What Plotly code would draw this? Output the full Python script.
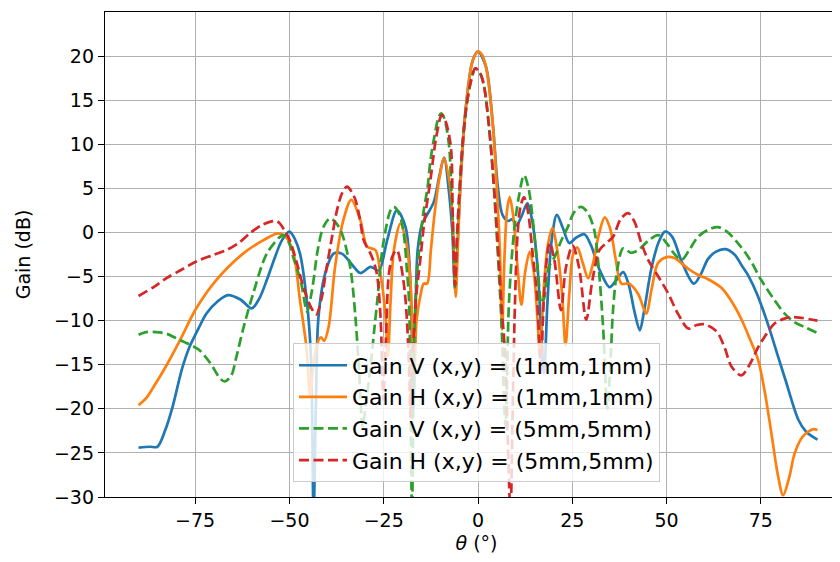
import plotly.graph_objects as go

# ---- data ----
theta_v1 = [-90, -87, -85, -83, -81, -78.5, -76.5, -74, -72, -69, -66.3, -63, -60, -58, -56, -54, -52, -50,
            -48.5, -47.2, -45.4, -44.3, -43.6, -43, -42.3, -40.5, -38.3, -36.1, -33.5, -31.2, -28.5, -26.3,
            -24.1, -21.5, -19.2, -17.9, -17.1, -16.5, -16, -14.8, -13.5, -11.7, -10.2, -9, -7.8, -6.8, -6.1,
            -5.5, -4.5, -3.2, -1.4, 0, 2.1, 3.9, 5.3, 6.5, 8.0, 9.1, 10.2, 11.5, 13.1, 14.5, 15.8, 16.6, 17.5,
            18.4, 19.5, 20.9, 22.5, 24.2, 26, 28.2, 30, 32, 34.9, 36.5, 38.5, 40, 41.5, 42.9, 44, 46, 48, 49.6,
            51.5, 54, 57.2, 59, 61, 63, 65.6, 68, 70, 71.8, 74, 77.1, 79.5, 81.5, 85, 87, 90]
gain_v1 = [-24.4, -24.3, -24.3, -22.5, -19.8, -15.5, -13, -10.8, -9.2, -7.8, -7.1, -7.6, -8.6, -7.5, -5.4, -3, -0.9, 0.1,
           -0.8, -2.4, -7.7, -14, -32, -20, -9.6, -4.6, -2.4, -2.4, -3.6, -4.6, -3.9, -4.3,
           -0.9, 2.5, 0.6, -6, -20, -8, -2, 1.0, 2.0, 3.5, 6.5, 8.5, 5, 0, -6.5,
           -2, 6.7, 14.3, 19.5, 20.5, 18.8, 12.4, 5, 2.0, 1.3, 1.5, 0.8, 1.8, 3.3, 1, -4, -10, -16,
           -8, -1, 2.0, 0.5, -1.2, -0.6, -0.2, -1.5, -4, -6.2, -5.5, -4.5, -6, -9, -11.1, -9, -4, -1, 0.1,
           -0.5, -3.3, -5.8, -4.8, -3, -2.2, -1.9, -2.5, -3.8, -5, -7, -10.7, -14, -16.7, -21.3, -22.6, -23.5]

theta_h1 = [-90, -88, -86, -82.5, -79, -74.7, -69.4, -62.3, -57, -53, -51, -49, -47.2, -45.5, -44.5, -43.5, -42.3,
            -41.6, -40.8, -39.6, -37.9, -35.7, -33.6, -31.2, -29.4, -27.2, -25.9, -24.6, -23.9, -23.2, -22.3,
            -20.6, -19, -18, -17.3, -16.9, -16.3, -15.2, -14.4, -13.5, -12.5, -11.6, -10.3, -9, -7.5, -6.8,
            -6.3, -5.9, -5.3, -4.5, -3.2, -1.4, 0, 1, 2.1, 3.9, 5.0, 5.8, 6.4, 7.0, 7.7, 8.4, 9.3, 10.5, 11.5,
            12.5, 13.7, 14.8, 15.8, 16.4, 17.5, 18.5, 19.7, 21, 22.3, 23.2, 24.2, 25.2, 26.3, 27.8, 29.2, 30.5,
            32, 33.6, 35, 36.5, 38, 40, 42.5, 44.6, 46, 47.7, 50, 52.1, 54, 56, 58.3, 61, 64.6, 67.5, 69.9, 72,
            74.3, 76, 77.8, 79.5, 80.9, 82.5, 84, 86, 87.5, 89, 90]
gain_h1 = [-19.6, -18.8, -17.5, -15, -12.2, -8.6, -5.4, -2.4, -0.9, -0.1, -0.5, -2.2, -7.7, -13, -18.5, -14.5, -12.2,
           -11.9, -12.3, -10.7, -3.9, 1.4, 3.7, 1.4, -1.6, -2.0, -4.6, -9, -14, -8, -2,
           1.0, -1.2, -5, -13, -16, -10, -7.0, -5.8, -5.8, -2, 1.8, 6, 8.4, 5.5, 2,
           -3, -7.3, -1, 6.7, 14.3, 19.5, 20.5, 20.2, 18.8, 12.4, 5, -2, -11, -3, 2.5, 4.0, 2, -4, -8.2,
           -4.5, -2.2, -4.5, -10, -14, -6, -1.5, 0.5, -2, -7, -12.8, -7, -2.5, -1.7, -3.5, -5.2, -3.5,
           -0.3, 1.7, 0.5, -3, -5.8, -5.8, -7, -9.2, -6.5, -3.5, -2.8, -2.9, -3.5, -4.2, -4.8, -5.3, -6.3, -8, -9.9, -12,
           -14.5, -18, -22.8, -27.5, -29.8, -27.8, -25, -23.2, -22.6, -22.3, -22.4]

theta_v5 = [-90, -88, -85.4, -82.5, -80, -77, -74, -71, -68.5, -67.2, -65.5, -64, -62.3, -59.6, -56, -52.5, -51.5,
            -50, -49, -47, -45.3, -44.2, -43.6, -42.5, -41, -39.2, -37.5, -36.1, -33.9, -32.5, -31.5, -30.6,
            -29.6, -28.5, -27.5, -26.7, -25.8, -25, -23.2, -22.3, -20.8, -19.7, -18.9, -18.3, -17.9, -17.5,
            -17.0, -16.4, -15.5, -14.4, -13.4, -12.6, -11.6, -10.5, -9.8, -9, -8.2, -7.6, -7, -6.5, -6.1, -5.7,
            -5, -4, -3, -1.8, -0.7, 0.5, 1.5, 2.8, 4, 5.2, 6.2, 7.3, 8.2, 9.5, 10.8, 12.2, 13.4, 14.9, 16, 16.8,
            17.5, 18.7, 20.3, 22, 23.8, 25.5, 27.3, 29, 30.8, 32, 33.2, 34.3, 35.2, 35.8, 37, 38.5, 40.5, 42.5,
            45, 47.8, 50, 52, 54, 56, 58.3, 61, 63.6, 66, 68.9, 72, 75.1, 78, 81.3, 84, 87, 90]
gain_v5 = [-11.6, -11.3, -11.3, -11.5, -12, -12.6, -13.3, -14.8, -16.5, -16.9, -16.3, -14, -11, -6.9, -2.4, -0.5, -0.3,
           -1.3, -2.8, -5.5, -9, -7, -5.4, -2, 0.6, 1.6, 1.0, -0.1, -3.9, -9.6, -16, -22,
           -19, -15.2, -11, -7.7, -3.5, -0.9, 2.5, 2.9, 2, -0.1, -4, -7.7, -19, -32,
           -14, -6, -1.5, 2.5, 5, 8.2, 10.8, 13, 13.5, 13, 11.5, 9.5, 4, -2, -6.2, -2,
           4, 10.5, 14.5, 17.3, 18.6, 18.1, 16.8, 12.5, 6.5, -2, -10, -22, -8, -0.1, 4, 6.5, 5, -0.1, -5, -8,
           -7.5, -4, -2.8, -1, 0.6, 2.3, 2.9, 2.3, 0.3, -4, -11, -20, -14, -8.8, -4, -1.8, -2.3, -2.0,
           -1, -0.3, -1.2, -2.4, -3.1, -2, -0.5, 0.3, 0.6, 0.1, -1.2, -3, -5.4, -7.3, -9.2, -10.2, -10.8, -11.4]

theta_h5 = [-90, -86, -82.7, -78.5, -74.7, -70.5, -66.7, -63.5, -60.5, -57.5, -55.2, -53.5, -52.5, -51, -49.9, -48,
            -46.3, -44.5, -42.9, -41.5, -40.1, -38.7, -37.4, -36, -34.7, -33.5, -32.5, -31.3, -30.3, -28.5, -27.5,
            -26.7, -25.8, -25.1, -24.4, -23.6, -22.5, -21.5, -20.3, -19.2, -18.3, -17.9, -17.3, -16.5, -15.3,
            -14.3, -12.6, -11.2, -9.8, -9.4, -8.5, -7.2, -6.7, -6.1, -5.6, -5, -4, -3, -1.8, -0.7, 0.5, 1.5, 2.8,
            4, 5.2, 6.2, 7.2, 8.0, 8.6, 9.2, 9.8, 10.5, 11.3, 12.2, 13.2, 14.5, 15.5, 16.2, 16.7, 17.2, 18.0, 19.0,
            20.2, 22, 23.3, 25.1, 26.8, 28.7, 30.3, 32.2, 34, 35.8, 37.8, 39.8, 41.5, 43.3, 45.1, 47.8, 50.4, 53,
            55.8, 58, 60, 62, 63.6, 65.5, 67.2, 69.8, 72, 74.3, 76.5, 78.7, 81, 83.1, 86, 90]
gain_h5 = [-7.2, -6.2, -5.2, -4.2, -3.3, -2.6, -2, -1.2, -0.1, 0.8, 1.2, 1.3, 1.0, 0, -0.9, -3.5,
           -6.2, -8.3, -9.3, -7.5, -3.9, -0.5, 2.5, 4.5, 5.2, 4.6, 3.7, 1.5, -0.9, -2.4, -3.5,
           -5, -10, -19, -12, -4.6, -2.5, -2.0, -4, -7.7, -15, -21, -14, -7.7, -3.1,
           1, 6, 10.5, 13.2, 13.3, 12.5, 9.7, 2, -6, -1, 4, 10.5, 14.5, 17.3, 18.6, 18.1, 16.8, 12.5,
           6.5, -1, -8, -14, -25, -32, -20, -8, -0.1, 3, 4.0, 2.5, -2.5, -6.5, -12, -16, -10, -4, -1.2,
           -3, -8.8, -4, -1.5, -4, -9.9, -5.5, -2, -1.2, -0.5, 1.5, 2.2, 1.2, -1.2, -3.1, -5, -6.9, -9.2,
           -10.9, -10.5, -10.4, -10.8, -11.4, -13.2, -15.2, -16.2, -15, -13, -11.5, -10.3, -9.8, -9.6, -9.7, -10.0]

series_names = ["Gain V (x,y) = (1mm,1mm)", "Gain H (x,y) = (1mm,1mm)",
                "Gain V (x,y) = (5mm,5mm)", "Gain H (x,y) = (5mm,5mm)"]
x_ticks = [-75, -50, -25, 0, 25, 50, 75]
y_ticks = [-30, -25, -20, -15, -10, -5, 0, 5, 10, 15, 20]

# ---- styling ----
colors = ["#1f77b4", "#ff7f0e", "#2ca02c", "#d62728"]
dashes = ["solid", "solid", "10px,4.5px", "10px,4.5px"]
xs = [theta_v1, theta_h1, theta_v5, theta_h5]
ys = [gain_v1, gain_h1, gain_v5, gain_h5]

def fmt(v):
    return ("\u2212" + str(-v)) if v < 0 else str(v)

fig = go.Figure()
for name, x, y, c, d in zip(series_names, xs, ys, colors, dashes):
    fig.add_trace(go.Scatter(x=x, y=y, mode="lines", name=name,
                             line=dict(color=c, width=2.7, dash=d, shape="spline", smoothing=0.9)))

# the page body has an 8px default margin, so the margins compensate for it
font_family = "DejaVu Sans"
fig.update_layout(
    width=840, height=562,
    margin=dict(l=97, r=0, t=4, b=73),
    paper_bgcolor="white", plot_bgcolor="white",
    font=dict(family=font_family, size=19, color="black"),
    showlegend=True,
    legend=dict(x=0.5, y=0.03, xanchor="center", yanchor="bottom",
                bgcolor="rgba(255,255,255,0.8)", bordercolor="#cccccc", borderwidth=1,
                font=dict(family=font_family, size=22, color="black"),
                itemwidth=48),
)
fig.update_xaxes(range=[-98.9, 98.1], tickvals=x_ticks, ticktext=[fmt(v) for v in x_ticks],
                 automargin=False,
                 showgrid=True, gridcolor="#b0b0b0", gridwidth=1.4,
                 showline=True, linecolor="black", linewidth=1.4, mirror=True,
                 ticks="outside", ticklen=6, tickwidth=1.4, tickcolor="black",
                 zeroline=False,
                 title=dict(text="<i>θ</i> (°)", standoff=6, font=dict(size=19)))
fig.update_yaxes(range=[-30, 25], tickvals=y_ticks, ticktext=[fmt(v) for v in y_ticks],
                 automargin=False,
                 showgrid=True, gridcolor="#b0b0b0", gridwidth=1.4,
                 showline=True, linecolor="black", linewidth=1.4, mirror=False,
                 ticks="outside", ticklen=6, tickwidth=1.4, tickcolor="black",
                 zeroline=False,
                 title=dict(text="Gain (dB)", standoff=18, font=dict(size=19)))

fig.write_html("out.html")
